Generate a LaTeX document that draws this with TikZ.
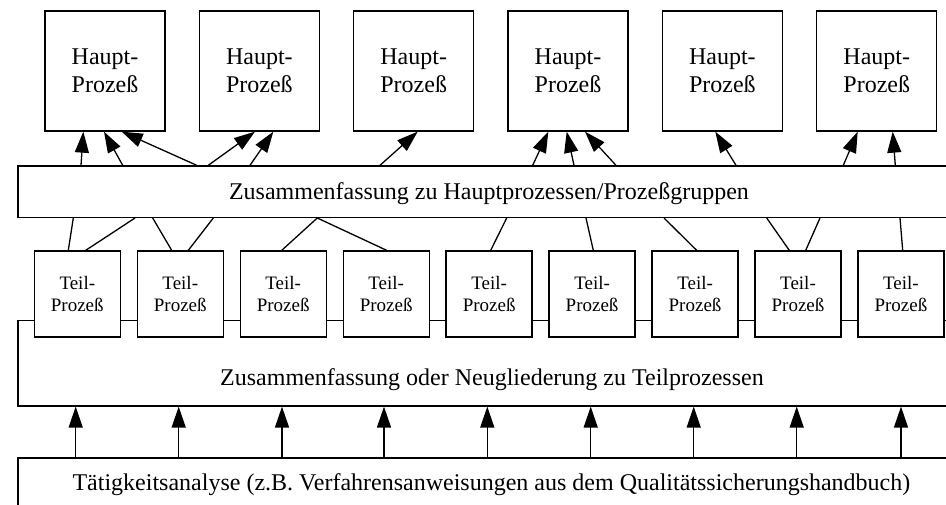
\documentclass[tikz,border=0pt]{standalone}
\usepackage{fontspec}
\setmainfont{Liberation Serif}
\usetikzlibrary{arrows.meta}
\begin{document}
\begin{tikzpicture}[x=1pt,y=-1pt,
  line width=1.3pt,
  box/.style={draw, fill=white, rectangle, inner sep=0pt, align=center},
  haupt/.style={box, minimum width=120pt, minimum height=120pt,
                font=\fontsize{24}{27.6}\selectfont},
  teil/.style={box, minimum width=86pt, minimum height=86pt,
               font=\fontsize{19}{22.7}\selectfont},
  band/.style={box, anchor=north west, font=\fontsize{24}{28}\selectfont},
  up/.style={-{Triangle[length=21pt,width=14pt]}},
]
\useasboundingbox (0,0) rectangle (946,504);
\clip (0,0) rectangle (946,504);

% wide bands (they run on past the right margin)
\node[band, minimum width=948pt, minimum height=85.3pt,
      text height=46pt, text depth=1.3pt] (low) at (17.3,320)
  {Zusammenfassung oder Neugliederung zu Teilprozessen};
\node[band, minimum width=947pt, minimum height=54pt,
      text height=17pt, text depth=5.6pt] (bot) at (17.3,457.3)
  {Tätigkeitsanalyse (z.B. Verfahrensanweisungen aus dem Qualitätssicherungshandbuch)};
\node[band, minimum width=942pt, minimum height=51.4pt,
      text height=17pt, text depth=0.4pt] (mid) at (17.3,165.3)
  {Zusammenfassung zu Hauptprozessen/Prozeßgruppen};

% sub-process boxes sitting on the top edge of the lower band
\foreach \i in {1,...,9}
  \node[teil] (t\i) at ({77.3+102.96*(\i-1)},294) {Teil-\\Prozeß};

% main-process boxes
\foreach \i in {1,...,6}
  \node[haupt] (h\i) at ({105+154.35*(\i-1)},71) {Haupt-\\Prozeß};

% activity analysis feeds the sub-process band
\foreach \a in {75.7,178.7,282,384,487.3,590.7,693.7,796.7,901}
  \draw[up] (\a,0 |- bot.north) -- (\a,0 |- low.south);

% sub-processes grouped into the upper band
\foreach \a/\b/\n in {68.3/73.3/1, 85.7/135/1, 171.7/152.7/2, 188.3/213.3/2,
                      281.7/317.3/3, 386.7/317.3/4, 490.7/506.7/5, 593.3/586/6,
                      696.7/664/7, 789.3/766.7/8, 805.7/820/8, 902.7/900/9}
  \draw (\a,0 |- t\n.north) -- (\b,0 |- mid.south);

% upper band feeds the main processes
\foreach \a/\b/\n in {81/83.3/1, 122.7/104/1, 196.7/121.7/1, 208.3/255/2,
                      250/273.3/2, 380/417.7/3, 532.7/548.3/4, 574/566.7/4,
                      616/585/4, 736/715.3/5, 843.3/857.7/6, 895.3/892.7/6}
  \draw[up] (\a,0 |- mid.north) -- (\b,0 |- h\n.south);
\end{tikzpicture}
\end{document}
